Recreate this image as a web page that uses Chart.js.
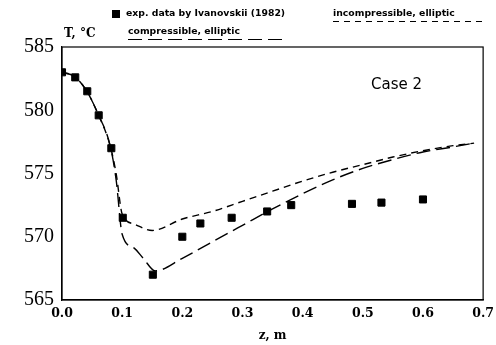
<!DOCTYPE html>
<html>
<head>
<meta charset="utf-8">
<script src="https://cdn.jsdelivr.net/npm/chart.js@4"></script>
<style>
  html, body { margin: 0; padding: 0; background: #fff; }
  #wrap { position: relative; width: 496px; height: 345px; }
</style>
</head>
<body>
<div id="wrap"><canvas id="chart" width="496" height="345"></canvas></div>
<script>
// measured values (z in m, T in °C)
const expZ = [0, 0.022, 0.042, 0.061, 0.082, 0.101, 0.151, 0.2, 0.23, 0.282, 0.341, 0.381, 0.482, 0.531, 0.6];
const expT = [583.0, 582.6, 581.5, 579.6, 577.0, 571.5, 567.0, 570.0, 571.05, 571.5, 572.0, 572.5, 572.6, 572.7, 572.95];

const compZ = [0, 0.02, 0.04, 0.06, 0.08, 0.09, 0.1, 0.12, 0.135, 0.155, 0.2, 0.25, 0.3, 0.35, 0.4, 0.45, 0.5, 0.55, 0.6, 0.65, 0.685];
const compT = [583.0, 582.7, 581.6, 579.7, 577.2, 574.5, 570.2, 569.1, 568.3, 567.3, 568.3, 569.6, 570.9, 572.2, 573.4, 574.5, 575.4, 576.1, 576.7, 577.1, 577.4];

const incZ = [0, 0.02, 0.04, 0.06, 0.08, 0.09, 0.1, 0.12, 0.15, 0.2, 0.25, 0.3, 0.35, 0.4, 0.45, 0.5, 0.55, 0.6, 0.65, 0.685];
const incT = [583.0, 582.7, 581.6, 579.7, 577.2, 575.0, 571.8, 571.0, 570.5, 571.4, 572.0, 572.8, 573.6, 574.4, 575.1, 575.7, 576.3, 576.8, 577.2, 577.4];

const xTicks = [0, 0.1, 0.2, 0.3, 0.4, 0.5, 0.6, 0.7];
const yTicks = [565, 570, 575, 580, 585];

const toPts = (xs, ys) => xs.map((x, i) => ({ x: x, y: ys[i] }));

// texte hors du graphe (legende, unites, "Case 2")
const annotations = {
  id: 'annotations',
  afterDraw(chart) {
    const c = chart.ctx;
    const a = chart.chartArea;
    c.save();
    c.fillStyle = '#000';
    c.strokeStyle = '#000';
    c.textBaseline = 'middle';

    // legende
    c.fillRect(112, 10, 8, 8);
    c.font = 'bold 9.3px "DejaVu Sans", sans-serif';
    c.fillText('exp. data by Ivanovskii (1982)', 126, 14);
    c.fillText('incompressible, elliptic', 333, 14);
    c.fillText('compressible, elliptic', 128, 32);

    c.lineWidth = 1;
    c.setLineDash([6, 5]);
    c.beginPath(); c.moveTo(333, 21.5); c.lineTo(486, 21.5); c.stroke();
    c.setLineDash([14, 6]);
    c.beginPath(); c.moveTo(128, 39.5); c.lineTo(283, 39.5); c.stroke();
    c.setLineDash([]);

    // unite de l'axe y
    c.font = 'bold 12px "DejaVu Serif", serif';
    c.fillText('T, °C', 64, 34);

    // Case 2
    c.font = '15px "DejaVu Sans", sans-serif';
    c.fillText('Case 2', 371, 85);

    // cadre
    c.lineWidth = 1.2;
    c.strokeRect(a.left, a.top, a.right - a.left, a.bottom - a.top);
    c.restore();
  }
};

new Chart(document.getElementById('chart'), {
  type: 'scatter',
  data: {
    datasets: [
      {
        label: 'exp. data by Ivanovskii (1982)',
        data: toPts(expZ, expT),
        pointStyle: 'rect',
        pointRadius: 5,
        backgroundColor: '#000',
        borderColor: '#000',
        showLine: false
      },
      {
        label: 'compressible, elliptic',
        data: toPts(compZ, compT),
        showLine: true,
        borderColor: '#000',
        borderWidth: 1.4,
        borderDash: [14, 6],
        pointRadius: 0,
        cubicInterpolationMode: 'monotone'
      },
      {
        label: 'incompressible, elliptic',
        data: toPts(incZ, incT),
        showLine: true,
        borderColor: '#000',
        borderWidth: 1.4,
        borderDash: [7, 5],
        pointRadius: 0,
        cubicInterpolationMode: 'monotone'
      }
    ]
  },
  options: {
    responsive: false,
    animation: false,
    layout: { padding: { top: 47, right: 6, left: 0, bottom: 0 } },
    plugins: {
      legend: { display: false },
      tooltip: { enabled: false }
    },
    scales: {
      x: {
        type: 'linear',
        min: 0, max: 0.7,
        afterBuildTicks: (s) => { s.ticks = xTicks.map(v => ({ value: v })); },
        afterFit: (s) => { s.height = 45; },
        grid: { display: false, drawTicks: true, tickLength: 4, color: '#000' },
        border: { display: true, color: '#000', width: 1.2 },
        ticks: {
          color: '#000',
          padding: 2,
          maxRotation: 0,
          font: { family: '"DejaVu Serif", serif', size: 12.5, weight: 'bold' },
          callback: (v) => v.toFixed(1)
        },
        title: {
          display: true,
          text: 'z, m',
          color: '#000',
          padding: { top: 2, bottom: 2 },
          font: { family: '"DejaVu Serif", serif', size: 12, weight: 'bold' }
        }
      },
      y: {
        min: 565, max: 585,
        afterBuildTicks: (s) => { s.ticks = yTicks.map(v => ({ value: v })); },
        afterFit: (s) => { s.width = 62; },
        grid: { display: false, drawTicks: true, tickLength: 5, color: '#000' },
        border: { display: true, color: '#000', width: 1.2 },
        ticks: {
          color: '#000',
          padding: 3,
          font: { family: '"Liberation Serif", serif', size: 20 }
        }
      }
    }
  },
  plugins: [annotations]
});
</script>
</body>
</html>
